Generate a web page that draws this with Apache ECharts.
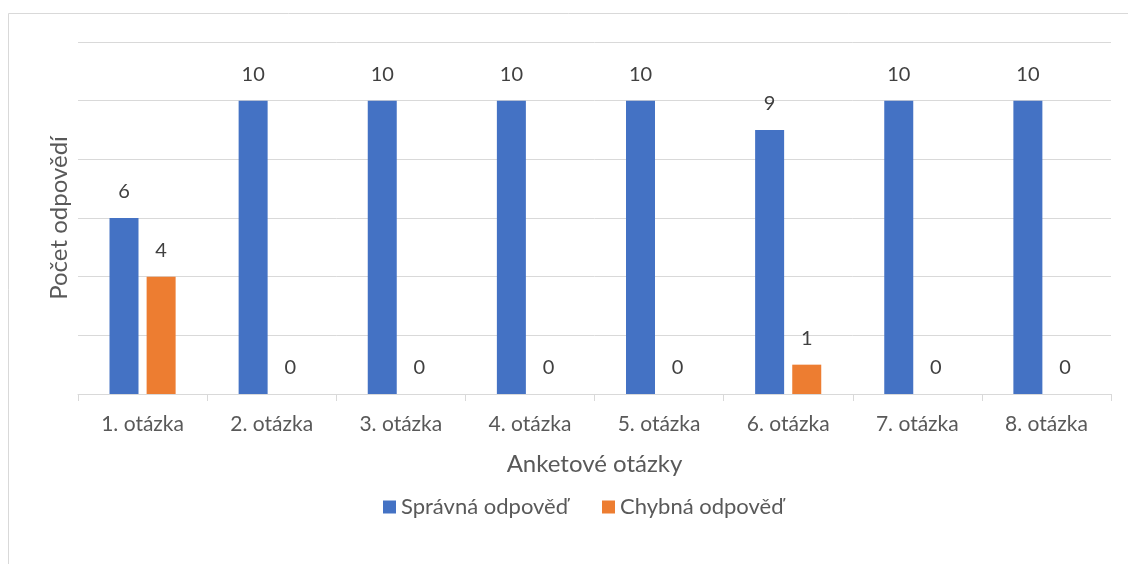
<!DOCTYPE html>
<html>
<head>
<meta charset="utf-8">
<script src="https://cdn.jsdelivr.net/npm/echarts@6/dist/echarts.min.js"></script>
<style>
  html, body { margin: 0; padding: 0; background: #fff; }
  #chart { width: 1128px; height: 564px; }
</style>
</head>
<body>
<div id="chart"></div>
<script>
const categories = ['1. otázka', '2. otázka', '3. otázka', '4. otázka', '5. otázka', '6. otázka', '7. otázka', '8. otázka']
const spravna = [6, 10, 10, 10, 10, 9, 10, 10]
const chybna = [4, 0, 0, 0, 0, 1, 0, 0]

const font = 'Lato, "Open Sans", sans-serif'
const myChart = echarts.init(document.getElementById('chart'))
const options = {
  backgroundColor: '#fff',
  textStyle: { fontFamily: font },
  graphic: [
    {
      type: 'rect',
      shape: { x: 8.5, y: 13.5, width: 1200, height: 600 },
      style: { fill: 'none', stroke: '#d9d9d9', lineWidth: 1 },
      silent: true
    }
  ],
  legend: {
    bottom: 41,
    left: 378,
    itemWidth: 13,
    itemHeight: 13,
    itemGap: 34,
    icon: 'rect',
    textStyle: { color: '#595959', fontSize: 22, fontFamily: font },
    data: ['Správná odpověď', 'Chybná odpověď']
  },
  grid: {
    left: 78,
    right: 17,
    top: 42,
    bottom: 170
  },
  xAxis: {
    type: 'category',
    data: categories,
    name: 'Anketové otázky',
    nameLocation: 'middle',
    nameGap: 58,
    nameTextStyle: { color: '#595959', fontSize: 24, fontFamily: font },
    axisLine: { lineStyle: { color: '#d9d9d9', width: 1 } },
    axisTick: { show: true, length: 7, lineStyle: { color: '#d9d9d9' } },
    axisLabel: { color: '#595959', fontSize: 21, margin: 20, fontFamily: font }
  },
  yAxis: {
    type: 'value',
    min: 0,
    max: 12,
    interval: 2,
    name: 'Počet odpovědí',
    nameLocation: 'middle',
    nameGap: 7,
    nameRotate: 90,
    nameTextStyle: { color: '#595959', fontSize: 24, fontFamily: font },
    axisLine: { show: false },
    axisTick: { show: false },
    axisLabel: { show: false },
    splitLine: { lineStyle: { color: '#d9d9d9', width: 1 } }
  },
  series: [
    {
      name: 'Správná odpověď',
      type: 'bar',
      data: spravna,
      barWidth: 29,
      barGap: '28%',
      itemStyle: { color: '#4472c4' },
      label: { show: true, position: 'top', distance: 16, color: '#404040', fontSize: 20, fontFamily: font }
    },
    {
      name: 'Chybná odpověď',
      type: 'bar',
      data: chybna,
      barWidth: 29,
      itemStyle: { color: '#ed7d31' },
      label: { show: true, position: 'top', distance: 16, color: '#404040', fontSize: 20, fontFamily: font }
    }
  ]
}
myChart.setOption(options)
</script>
</body>
</html>
